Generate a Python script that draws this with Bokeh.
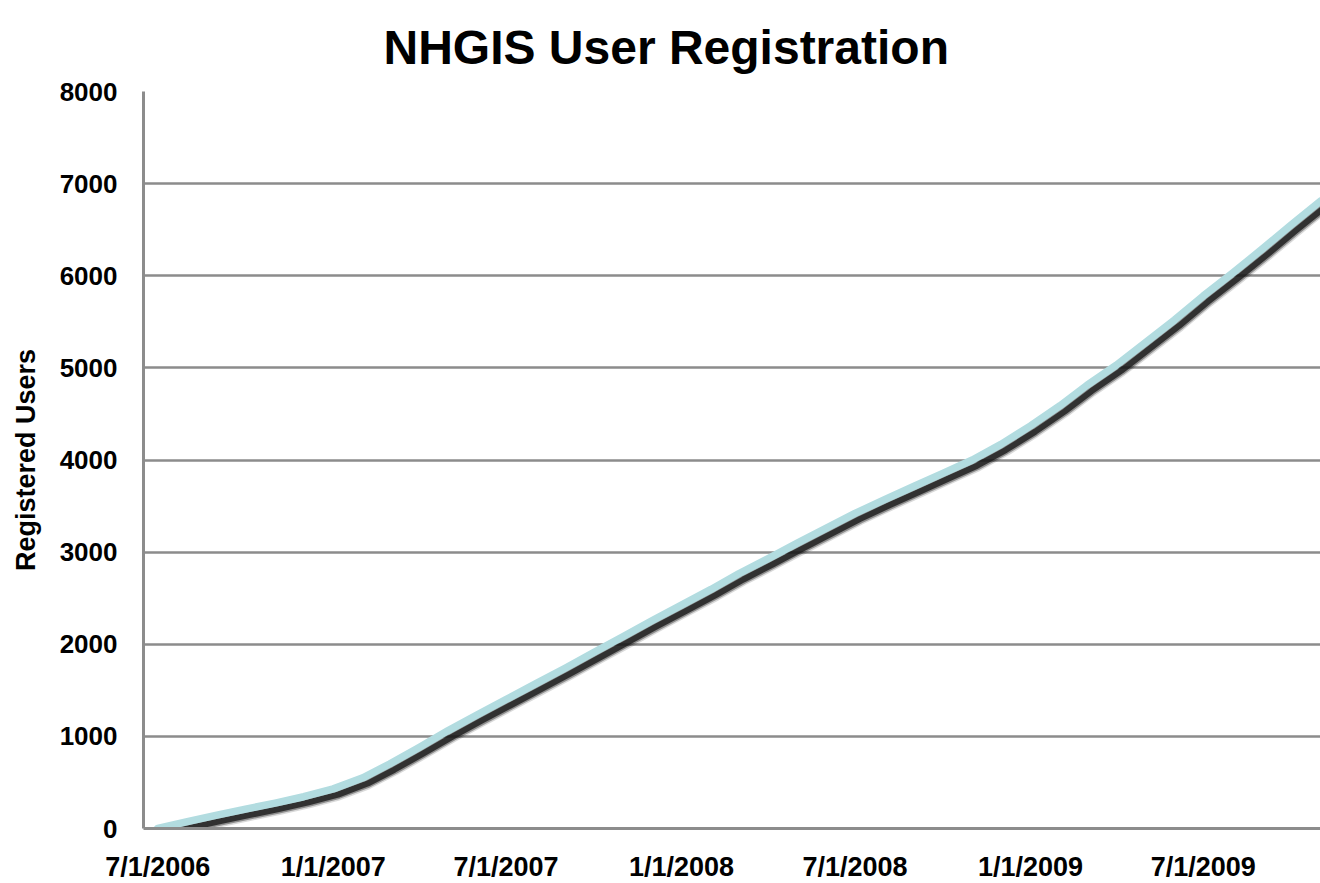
import pandas as pd
from bokeh.plotting import figure
from bokeh.models import FixedTicker, ColumnDataSource, Range1d
from bokeh.transform import dodge
from bokeh.embed import file_html
from bokeh.resources import INLINE

# ---- data ----
months = [
    "2006-07-01", "2006-08-01", "2006-09-01", "2006-10-01", "2006-11-01", "2006-12-01",
    "2007-01-01", "2007-02-01", "2007-03-01", "2007-04-01", "2007-05-01", "2007-06-01",
    "2007-07-01", "2007-08-01", "2007-09-01", "2007-10-01", "2007-11-01", "2007-12-01",
    "2008-01-01", "2008-02-01", "2008-03-01", "2008-04-01", "2008-05-01", "2008-06-01",
    "2008-07-01", "2008-08-01", "2008-09-01", "2008-10-01", "2008-11-01", "2008-12-01",
    "2009-01-01", "2009-02-01", "2009-03-01", "2009-04-01", "2009-05-01", "2009-06-01",
    "2009-07-01", "2009-08-01", "2009-09-01", "2009-10-01", "2009-11-01",
]
users = [
    0, 75, 145, 210, 275, 345,
    430, 550, 700, 880, 1060, 1235,
    1400, 1570, 1740, 1910, 2085, 2255,
    2425, 2595, 2765, 2930, 3095, 3260,
    3420, 3570, 3715, 3855, 4000, 4170,
    4370, 4590, 4810, 5030, 5270, 5520,
    5780, 6030, 6290, 6550, 6810,
]
tick_dates = ["2006-07-01", "2007-01-01", "2007-07-01", "2008-01-01",
              "2008-07-01", "2009-01-01", "2009-07-01"]
tick_labels = ["7/1/2006", "1/1/2007", "7/1/2007", "1/1/2008",
               "7/1/2008", "1/1/2009", "7/1/2009"]
y_ticks = [0, 1000, 2000, 3000, 4000, 5000, 6000, 7000, 8000]

TITLE = "NHGIS User Registration"
Y_LABEL = "Registered Users"

# ---- build ----
src = ColumnDataSource(dict(date=pd.to_datetime(months), users=users))
tick_ms = [pd.Timestamp(d).value / 1e6 for d in tick_dates]

p = figure(
    frame_width=1177, frame_height=737,
    x_axis_type="datetime",
    x_range=Range1d(pd.Timestamp("2006-06-16"), pd.Timestamp("2009-11-01")),
    y_range=Range1d(0, 8000),
    output_backend="svg", toolbar_location=None,
    min_border_left=143, min_border_right=0, min_border_top=91, min_border_bottom=55,
)
p.outline_line_color = None
p.background_fill_color = "white"
p.border_fill_color = "white"

p.title.text = TITLE
p.title.text_font = "Liberation Sans"
p.title.text_font_style = "bold"
p.title.text_font_size = "48px"
p.title.text_color = "black"
p.title.align = "left"
p.title.offset = 240
p.title.vertical_align = "top"
p.title.standoff = 31

GRID = "#8c8c8c"
FONT = "Liberation Sans"

p.xgrid.grid_line_color = None
p.ygrid.grid_line_color = GRID
p.ygrid.grid_line_width = 2.5
p.ygrid.ticker = FixedTicker(ticks=y_ticks)

ya = p.yaxis[0]
ya.ticker = FixedTicker(ticks=y_ticks)
ya.axis_line_color = GRID
ya.axis_line_width = 3
ya.major_tick_line_color = None
ya.minor_tick_line_color = None
ya.major_tick_out = 0
ya.major_tick_in = 0
ya.minor_tick_out = 0
ya.major_label_text_font = FONT
ya.major_label_text_font_style = "bold"
ya.major_label_text_font_size = "26px"
ya.major_label_text_color = "black"
ya.major_label_standoff = 26
ya.axis_label = Y_LABEL
ya.axis_label_text_font = FONT
ya.axis_label_text_font_style = "bold"
ya.axis_label_text_font_size = "27px"
ya.axis_label_text_color = "black"
ya.axis_label_standoff = 16

xa = p.xaxis[0]
xa.ticker = FixedTicker(ticks=tick_ms)
xa.major_label_overrides = {t: lab for t, lab in zip(tick_ms, tick_labels)}
xa.axis_line_color = GRID
xa.axis_line_width = 3
xa.major_tick_line_color = None
xa.minor_tick_line_color = None
xa.major_tick_out = 0
xa.major_tick_in = 0
xa.minor_tick_out = 0
xa.major_label_text_font = FONT
xa.major_label_text_font_style = "bold"
xa.major_label_text_font_size = "27px"
xa.major_label_text_color = "black"
xa.major_label_standoff = 23

# shadow (offset a few pixels down/right, blurred by layering)
DX = 5 * 86400000  # ~5 px in days
DY = -62           # ~6 px in users
sx = dodge("date", DX)
sy = dodge("users", DY)
p.line(x=sx, y=sy, source=src, line_color="black", line_alpha=0.15, line_width=12, line_cap="round", line_join="round")
p.line(x=sx, y=sy, source=src, line_color="black", line_alpha=0.35, line_width=9, line_cap="round", line_join="round")
p.line(x=sx, y=sy, source=src, line_color="#1a1a1a", line_alpha=0.8, line_width=6, line_cap="round", line_join="round")

p.line(x="date", y="users", source=src, line_color="#b2dce0", line_width=7.5, line_cap="round", line_join="round")

open("out.html", "w").write(file_html(p, INLINE))
